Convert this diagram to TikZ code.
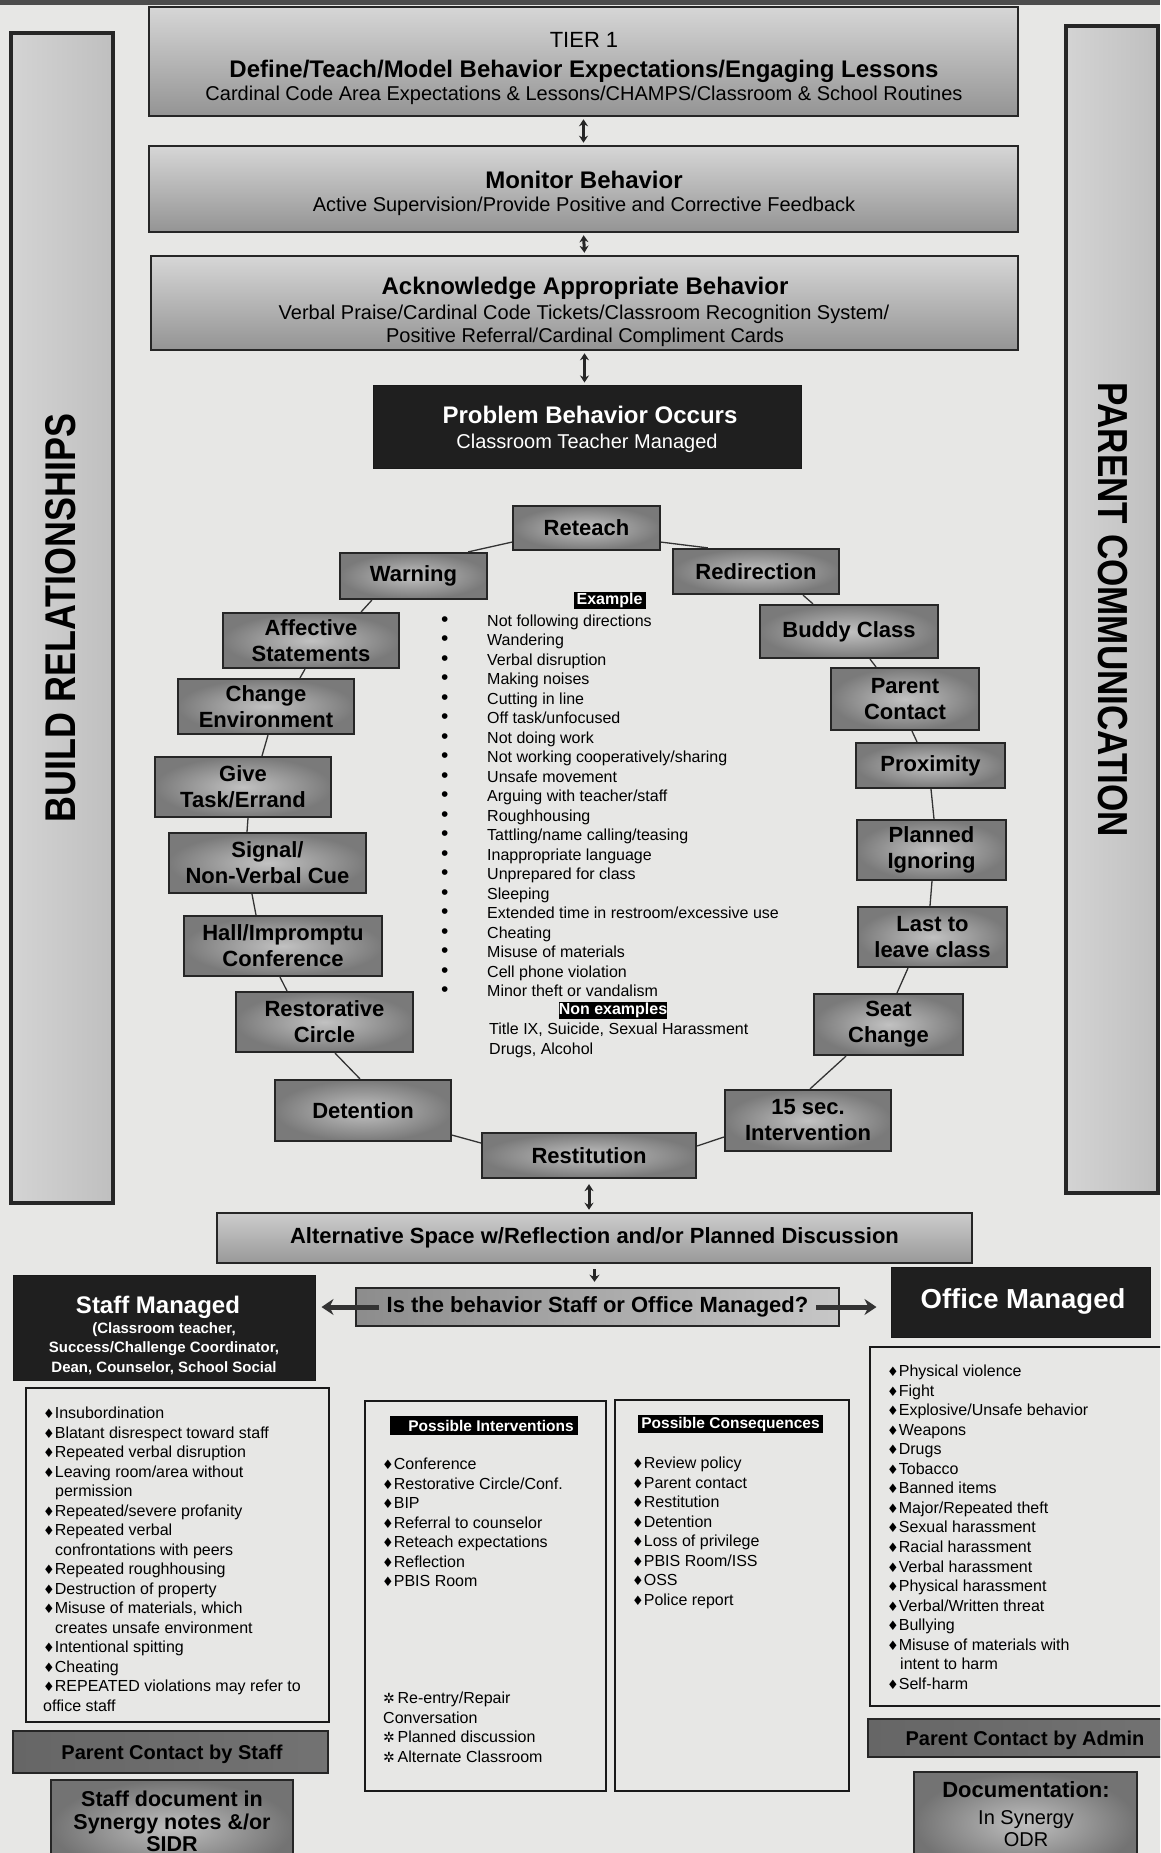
\documentclass[tikz,border=0pt]{standalone}
\usepackage{fontspec}
\setmainfont{Liberation Sans}
\newfontfamily\dejavu{DejaVu Sans}
\newfontfamily\narrowsans[FakeStretch=0.835]{Liberation Sans}
\usetikzlibrary{arrows.meta,calc}
\definecolor{bgcol}{RGB}{231,231,229}
\newcommand{\fsz}[2]{\fontsize{#1}{#2}\selectfont}
\newcommand{\dmd}{{\dejavu\fontsize{13}{13}\selectfont\char"2666}}
\newcommand{\strmk}{{\dejavu\fontsize{14}{14}\selectfont\char"2732}\,}
\newcommand{\bul}{\makebox[46pt][l]{\fontsize{21}{19.5}\selectfont\textbullet}}
\newcommand{\lst}[1]{\begin{tabular}[t]{@{}l@{}}#1\end{tabular}}
\tikzset{
  tierbox/.style={draw=black!85, line width=2.5pt, top color=black!16, bottom color=black!42, inner sep=0pt},
  circbox/.style={draw=black!85, line width=2.2pt, inner color=black!24, outer color=black!52, inner sep=0pt, align=center, font=\fsz{22}{26}\bfseries},
  sidebox/.style={draw=black!85, line width=4pt, left color=black!17, middle color=black!9, right color=black!25, inner sep=0pt},
  blackbox/.style={fill=black!88, draw=black!90, line width=1pt, inner sep=0pt},
  listbox/.style={draw=black!90, line width=2.2pt, inner sep=0pt},
  graybar/.style={draw=black!85, line width=2.5pt, left color=black!60, middle color=black!32, right color=black!55, inner sep=0pt},
  docbox/.style={draw=black!85, line width=2.5pt, inner color=black!25, outer color=black!55, inner sep=0pt},
  altbox/.style={draw=black!85, line width=2.5pt, top color=black!20, bottom color=black!40, inner sep=0pt},
  isbox/.style={draw=black!85, line width=2.5pt, left color=black!45, right color=black!22, inner sep=0pt},
  lbl/.style={fill=black, text=white, inner sep=0pt},
  link/.style={draw=black!80, line width=1.3pt},
  dblarrow/.style={draw=black!85, line width=3pt, {Stealth[length=7pt,width=9pt]}-{Stealth[length=7pt,width=9pt]}, shorten <=2pt, shorten >=2pt},
  downarrow/.style={draw=black!85, line width=3pt, -{Stealth[length=7pt,width=10pt]}, shorten <=5pt, shorten >=5pt},
  bigarrow/.style={draw=black!80, line width=5pt, -{Stealth[length=12pt,width=16pt]}},
  basetxt/.style={anchor=base, inner sep=0pt},
  listtxt/.style={anchor=base west, inner sep=0pt, font=\fsz{16}{19.5}},
}
\begin{document}
\begin{tikzpicture}[x=1pt,y=-1pt]
\useasboundingbox (0,0) rectangle (1160,1853);
\clip (0,0) rectangle (1160,1853);
\fill[bgcol] (0,0) rectangle (1160,1853);
\fill[black!70] (0,0) rectangle (1160,5);

% side panels
\node[sidebox, minimum width=102pt, minimum height=1170pt] (buildbox) at (62,618) {};
\node[rotate=90, inner sep=0pt, font=\narrowsans\fsz{43}{43}\bfseries] (buildtxt) at (61,618) {BUILD RELATIONSHIPS};
\node[sidebox, minimum width=92pt, minimum height=1167pt] (parentbox) at (1112,609.5) {};
\node[rotate=-90, inner sep=0pt, font=\narrowsans\fsz{42}{42}\bfseries] (parenttxt) at (1113,610) {PARENT COMMUNICATION};

% tier boxes
\node[tierbox, minimum width=869pt, minimum height=109pt] (tier) at (583.5,61.5) {};
\node[basetxt, font=\fsz{22}{22}] (tiertitle) at (584,47) {TIER 1};
\node[basetxt, font=\fsz{24}{24}\bfseries] (tierhead) at (584,77.6) {Define/Teach/Model Behavior Expectations/Engaging Lessons};
\node[basetxt, font=\fsz{20}{20}] (tiersub) at (584,100) {Cardinal Code Area Expectations \& Lessons/CHAMPS/Classroom \& School Routines};

\node[tierbox, minimum width=869pt, minimum height=86pt] (monitor) at (583.5,189) {};
\node[basetxt, font=\fsz{24}{24}\bfseries] (monhead) at (584,188.6) {Monitor Behavior};
\node[basetxt, font=\fsz{20}{20}] (monsub) at (584,211.2) {Active Supervision/Provide Positive and Corrective Feedback};

\node[tierbox, minimum width=867pt, minimum height=94pt] (ack) at (584.5,303) {};
\node[basetxt, font=\fsz{24}{24}\bfseries] (ackhead) at (585,294.6) {Acknowledge Appropriate Behavior};
\node[basetxt, font=\fsz{20}{20}] (acksubone) at (584,319.2) {Verbal Praise/Cardinal Code Tickets/Classroom Recognition System/};
\node[basetxt, font=\fsz{20}{20}] (acksubtwo) at (585,342.2) {Positive Referral/Cardinal Compliment Cards};

\node[blackbox, minimum width=428pt, minimum height=83pt] (problem) at (587,426.5) {};
\node[basetxt, text=white, font=\fsz{24}{24}\bfseries] (probhead) at (590,423.6) {Problem Behavior Occurs};
\node[basetxt, text=white, font=\fsz{20}{20}] (probsub) at (587,448.2) {Classroom Teacher Managed};

\draw[dblarrow] (tier.south) -- (monitor.north);
\draw[dblarrow] (monitor.south) -- (ack.north);
\draw[dblarrow] (ack.south) -- (ack.south |- problem.north);

% circle of interventions
\node[circbox, minimum width=147pt, minimum height=44pt] (reteach) at (586.5,528) {Reteach};
\node[circbox, minimum width=147pt, minimum height=46pt] (warning) at (413.5,576) {Warning};
\node[circbox, minimum width=166pt, minimum height=45pt] (redirect) at (756,571.5) {Redirection};
\node[circbox, minimum width=176pt, minimum height=55pt] (affective) at (311,640.5) {Affective\\Statements};
\node[circbox, minimum width=178pt, minimum height=53pt] (buddy) at (849,631.5) {Buddy Class};
\node[circbox, minimum width=176pt, minimum height=55pt] (change) at (266,706.5) {Change\\Environment};
\node[circbox, minimum width=148pt, minimum height=62pt] (parent) at (905,699) {Parent\\Contact};
\node[circbox, minimum width=176pt, minimum height=60pt] (give) at (243,787) {Give\\Task/Errand};
\node[circbox, minimum width=149pt, minimum height=45pt] (proximity) at (930.5,765.5) {Proximity};
\node[circbox, minimum width=197pt, minimum height=60pt] (signal) at (267.5,863) {Signal/\\Non-Verbal Cue};
\node[circbox, minimum width=149pt, minimum height=60pt] (planned) at (931.5,850) {Planned\\Ignoring};
\node[circbox, minimum width=198pt, minimum height=60pt] (hall) at (283,946) {Hall/Impromptu\\Conference};
\node[circbox, minimum width=149pt, minimum height=60pt] (last) at (932.5,937) {Last to\\leave class};
\node[circbox, minimum width=177pt, minimum height=60pt] (restor) at (324.5,1022) {Restorative\\Circle};
\node[circbox, minimum width=149pt, minimum height=61pt] (seat) at (888.5,1024.5) {Seat\\Change};
\node[circbox, minimum width=176pt, minimum height=61pt] (detention) at (363,1110.5) {Detention};
\node[circbox, minimum width=166pt, minimum height=61pt] (fifteen) at (808,1120.5) {15 sec.\\Intervention};
\node[circbox, minimum width=214pt, minimum height=45pt] (restit) at (589,1155.5) {Restitution};

\draw[link] ([yshift=9pt]reteach.south west) -- ([xshift=-20pt]warning.north east);
\draw[link] ([yshift=9pt]reteach.south east) -- ([xshift=36pt]redirect.north west);
\draw[link] ([xshift=33pt]warning.south west) -- ([xshift=-39pt]affective.north east);
\draw[link] ([xshift=-6pt]affective.south) -- ([xshift=34pt]change.north);
\draw[link] ([xshift=2pt]change.south) -- ([xshift=19pt]give.north);
\draw[link] ([xshift=5pt]give.south) -- ([xshift=-20.5pt]signal.north);
\draw[link] ([xshift=-15.5pt]signal.south) -- ([xshift=-27pt]hall.north);
\draw[link] ([xshift=-3pt]hall.south) -- ([xshift=-37.5pt]restor.north);
\draw[link] ([xshift=10.5pt]restor.south) -- ([xshift=-3pt]detention.north);
\draw[link] ([yshift=7pt]detention.south east) -- ([yshift=12.5pt]restit.west);
\draw[link] ([xshift=47pt]redirect.south) -- ([xshift=-36pt]buddy.north);
\draw[link] ([xshift=21pt]buddy.south) -- ([xshift=-29pt]parent.north);
\draw[link] ([xshift=7pt]parent.south) -- ([xshift=-13.5pt]proximity.north);
\draw[link] ([xshift=0.5pt]proximity.south) -- ([xshift=2.5pt]planned.north);
\draw[link] ([xshift=0.5pt]planned.south) -- ([xshift=-2.5pt]last.north);
\draw[link] ([xshift=-24.5pt]last.south) -- ([xshift=8.5pt]seat.north);
\draw[link] ([xshift=-42.5pt]seat.south) -- ([xshift=2pt]fifteen.north);
\draw[link] ([yshift=-16.5pt]fifteen.west) -- ([yshift=9.5pt]restit.east);

% examples
\node[lbl, minimum width=72pt, minimum height=17pt, font=\fsz{16}{16}\bfseries] (exlbl) at (609.5,600) {Example};
\node[listtxt] (exlist) at (441,626) {\lst{%
\bul Not following directions\\
\bul Wandering\\
\bul Verbal disruption\\
\bul Making noises\\
\bul Cutting in line\\
\bul Off task/unfocused\\
\bul Not doing work\\
\bul Not working cooperatively/sharing\\
\bul Unsafe movement\\
\bul Arguing with teacher/staff\\
\bul Roughhousing\\
\bul Tattling/name calling/teasing\\
\bul Inappropriate language\\
\bul Unprepared for class\\
\bul Sleeping\\
\bul Extended time in restroom/excessive use\\
\bul Cheating\\
\bul Misuse of materials\\
\bul Cell phone violation\\
\bul Minor theft or vandalism}};
\node[lbl, minimum width=104pt, minimum height=17pt, font=\fsz{16}{16}\bfseries] (nonlbl) at (613,1010) {Non examples};
\node[listtxt, font=\fsz{16}{20}] (nonlist) at (489,1034.7) {\lst{Title IX, Suicide, Sexual Harassment\\ Drugs, Alcohol}};

% lower flow
\node[altbox, minimum width=755pt, minimum height=50pt, font=\fsz{22}{22}\bfseries] (alt) at (594.5,1238) {Alternative Space w/Reflection and/or Planned Discussion};
\draw[dblarrow, shorten <=5pt, shorten >=2pt] (restit.south) -- (restit.south |- alt.north);
\node[isbox, minimum width=483pt, minimum height=38pt, font=\fsz{22}{22}\bfseries] (isq) at (597.5,1307) {Is the behavior Staff or Office Managed?};
\draw[downarrow] (alt.south) -- (alt.south |- isq.north);

\node[blackbox, minimum width=302pt, minimum height=105pt] (staffmgd) at (164,1327.5) {};
\node[basetxt, text=white, font=\fsz{24}{24}\bfseries] (staffhead) at (158,1313.6) {Staff Managed};
\node[basetxt, text=white, font=\fsz{15}{19.5}\bfseries] (staffsub) at (164,1333.4) {\begin{tabular}[t]{@{}c@{}}(Classroom teacher,\\ Success/Challenge Coordinator,\\ Dean, Counselor, School Social\end{tabular}};

\node[blackbox, minimum width=259pt, minimum height=70pt] (office) at (1020.5,1302) {};
\node[basetxt, text=white, font=\fsz{27.5}{27.5}\bfseries] (officehead) at (1023,1308.8) {Office Managed};

\draw[bigarrow, shorten <=-24pt, shorten >=6pt] (isq.west) -- (isq.west -| staffmgd.east);
\draw[bigarrow, shorten <=-24pt, shorten >=14pt] (isq.east) -- (isq.east -| office.west);

% staff list
\node[listbox, minimum width=303pt, minimum height=334pt] (stafflistbox) at (177.5,1555) {};
\node[listtxt] (stafflist) at (43,1418.5) {\lst{%
\dmd Insubordination\\
\dmd Blatant disrespect toward staff\\
\dmd Repeated verbal disruption\\
\dmd Leaving room/area without\\
\hspace*{12pt}permission\\
\dmd Repeated/severe profanity\\
\dmd Repeated verbal\\
\hspace*{12pt}confrontations with peers\\
\dmd Repeated roughhousing\\
\dmd Destruction of property\\
\dmd Misuse of materials, which\\
\hspace*{12pt}creates unsafe environment\\
\dmd Intentional spitting\\
\dmd Cheating\\
\dmd REPEATED violations may refer to\\
office staff}};

% interventions
\node[listbox, minimum width=241pt, minimum height=390pt] (intbox) at (485.5,1596) {};
\node[lbl, minimum width=188pt, minimum height=19pt, font=\fsz{15.5}{15.5}\bfseries] (intlbl) at (484,1425.5) {\hspace*{14pt}Possible Interventions};
\node[listtxt] (intlist) at (382,1469.5) {\lst{%
\dmd Conference\\
\dmd Restorative Circle/Conf.\\
\dmd BIP\\
\dmd Referral to counselor\\
\dmd Reteach expectations\\
\dmd Reflection\\
\dmd PBIS Room}};
\node[listtxt, font=\fsz{16}{19.6}] (intstars) at (383,1703.5) {\lst{%
\strmk Re-entry/Repair\\
Conversation\\
\strmk Planned discussion\\
\strmk Alternate Classroom}};

% consequences
\node[listbox, minimum width=234pt, minimum height=391pt] (conbox) at (732,1595.5) {};
\node[lbl, minimum width=185pt, minimum height=18pt, font=\fsz{15.5}{15.5}\bfseries] (conlbl) at (730.5,1424) {Possible Consequences};
\node[listtxt] (conlist) at (632,1468.5) {\lst{%
\dmd Review policy\\
\dmd Parent contact\\
\dmd Restitution\\
\dmd Detention\\
\dmd Loss of privilege\\
\dmd PBIS Room/ISS\\
\dmd OSS\\
\dmd Police report}};

% office list
\node[listbox, minimum width=310pt, minimum height=359pt] (officelistbox) at (1025,1526.5) {};
\node[listtxt, font=\fsz{16}{19.56}] (officelist) at (887,1376.5) {\lst{%
\dmd Physical violence\\
\dmd Fight\\
\dmd Explosive/Unsafe behavior\\
\dmd Weapons\\
\dmd Drugs\\
\dmd Tobacco\\
\dmd Banned items\\
\dmd Major/Repeated theft\\
\dmd Sexual harassment\\
\dmd Racial harassment\\
\dmd Verbal harassment\\
\dmd Physical harassment\\
\dmd Verbal/Written threat\\
\dmd Bullying\\
\dmd Misuse of materials with\\
\hspace*{13pt}intent to harm\\
\dmd Self-harm}};

% parent contact and documentation
\node[graybar, minimum width=315pt, minimum height=42pt] (pcstaff) at (170.5,1752) {};
\node[basetxt, font=\fsz{20}{20}\bfseries] (pcstafftxt) at (172,1759) {Parent Contact by Staff};
\node[graybar, minimum width=312pt, minimum height=38pt] (pcadmin) at (1024,1738) {};
\node[basetxt, font=\fsz{20}{20}\bfseries] (pcadmintxt) at (1025,1745) {Parent Contact by Admin};

\node[docbox, minimum width=242pt, minimum height=95pt] (staffdoc) at (172,1827.5) {};
\node[basetxt, font=\fsz{21.5}{22.5}\bfseries] (staffdoctxt) at (172,1806.5) {\begin{tabular}[t]{@{}c@{}}Staff document in\\ Synergy notes \&/or\\ SIDR\end{tabular}};
\node[docbox, minimum width=223pt, minimum height=103pt] (docu) at (1025.5,1823.5) {};
\node[basetxt, font=\fsz{22}{22}\bfseries] (docuhead) at (1026,1797) {Documentation:};
\node[basetxt, font=\fsz{20}{22}] (docusub) at (1026,1824) {\begin{tabular}[t]{@{}c@{}}In Synergy\\ ODR\end{tabular}};
\end{tikzpicture}
\end{document}
